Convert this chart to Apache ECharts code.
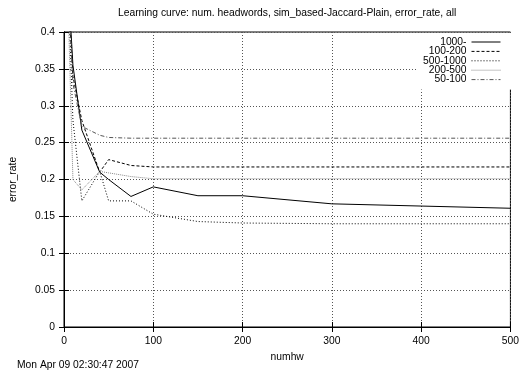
<!DOCTYPE html>
<html>
<head>
<meta charset="utf-8">
<script src="https://cdn.jsdelivr.net/npm/echarts@6/dist/echarts.min.js"></script>
<style>
  html, body { margin: 0; padding: 0; background: #fff; }
  #chart { width: 522px; height: 371px; }
</style>
</head>
<body>
<div id="chart"></div>
<script>
// numhw values (x)
const numhw = [5, 10, 20, 40, 50, 75, 100, 150, 200, 300, 400, 500];

// error_rate per group
const err1000 = [0.46, 0.355, 0.267, 0.21, 0.2, 0.177, 0.19, 0.178, 0.178, 0.167, 0.164, 0.161];
const err100_200 = [0.45, 0.34, 0.28, 0.21, 0.227, 0.219, 0.217, 0.217, 0.217, 0.217, 0.217, 0.217];
const err500_1000 = [0.45, 0.28, 0.171, 0.211, 0.171, 0.171, 0.153, 0.143, 0.141, 0.14, 0.14, 0.14];
const err200_500 = [0.42, 0.2, 0.186, 0.211, 0.209, 0.204, 0.201, 0.201, 0.201, 0.201, 0.201, 0.201];
const err50_100 = [0.45, 0.33, 0.272, 0.26, 0.257, 0.256, 0.256, 0.256, 0.256, 0.256, 0.256, 0.256];

const groups = ['1000-', '100-200', '500-1000', '200-500', '50-100'];
const values = [err1000, err100_200, err500_1000, err200_500, err50_100];
const styles = [
    {color: '#000', type: 'solid'},
    {color: '#000', type: [3, 2]},
    {color: '#000', type: [1, 2]},
    {color: '#888', type: [1, 1]},
    {color: '#555', type: [4, 2, 1, 2]}
];

const FONT = 'Liberation Sans';
const FS = 10.3;

const chart = echarts.init(document.getElementById('chart'), null, {renderer: 'canvas'});

const series = groups.map((name, i) => ({
    name: name,
    type: 'line',
    data: numhw.map((x, j) => [x, values[i][j]]),
    symbol: 'none',
    showSymbol: false,
    clip: true,
    silent: true,
    z: 3,
    itemStyle: {color: styles[i].color},
    lineStyle: {color: styles[i].color, width: 1, type: styles[i].type}
}));

const gridLine = {show: true, lineStyle: {color: '#555', width: 1, type: [1, 2]}};

chart.setOption({
    animation: false,
    backgroundColor: '#fff',
    textStyle: {fontFamily: FONT},
    title: {
        text: 'Learning curve: num. headwords, sim_based-Jaccard-Plain, error_rate, all',
        left: 118,
        top: 8,
        padding: 0,
        textStyle: {fontFamily: FONT, fontSize: FS, fontWeight: 'normal', color: '#000'}
    },
    grid: {
        left: 61, right: 6, top: 32, bottom: 44,
        show: true, borderColor: '#000', borderWidth: 1
    },
    legend: {
        data: groups,
        orient: 'vertical',
        align: 'right',
        right: 11,
        top: 33,
        padding: [4, 10, 5, 7],
        backgroundColor: '#fff',
        itemWidth: 29,
        itemHeight: 7,
        itemGap: -0.6,
        selectedMode: false,
        itemStyle: {opacity: 0},
        lineStyle: {width: 1},
        textStyle: {fontFamily: FONT, fontSize: FS, color: '#000', lineHeight: 9.4}
    },
    xAxis: [{
        type: 'value', min: 0, max: 500, interval: 100,
        name: 'numhw', nameLocation: 'middle', nameGap: 25,
        nameTextStyle: {fontFamily: FONT, fontSize: FS, color: '#000'},
        axisLine: {show: true, lineStyle: {color: '#000', width: 1}},
        axisTick: {show: true, inside: true, length: 5, lineStyle: {color: '#000'}},
        axisLabel: {fontFamily: FONT, fontSize: FS, color: '#000', margin: 9},
        splitLine: gridLine
    }, {
        type: 'value', min: 0, max: 500, interval: 100, position: 'top',
        axisLine: {show: true, lineStyle: {color: '#000', width: 1}},
        axisTick: {show: true, inside: true, length: 5, lineStyle: {color: '#000'}},
        axisLabel: {show: false},
        splitLine: {show: false}
    }],
    yAxis: [{
        type: 'value', min: 0, max: 0.4, interval: 0.05,
        name: 'error_rate', nameLocation: 'middle', nameGap: 46, nameRotate: 90,
        nameTextStyle: {fontFamily: FONT, fontSize: FS, color: '#000'},
        axisLine: {show: true, lineStyle: {color: '#000', width: 1}},
        axisTick: {show: true, inside: true, length: 5, lineStyle: {color: '#000'}},
        axisLabel: {fontFamily: FONT, fontSize: FS, color: '#000', margin: 9},
        splitLine: gridLine
    }, {
        type: 'value', min: 0, max: 0.4, interval: 0.05, position: 'right',
        axisLine: {show: true, lineStyle: {color: '#000', width: 1}},
        axisTick: {show: true, inside: true, length: 5, lineStyle: {color: '#000'}},
        axisLabel: {show: false},
        splitLine: {show: false}
    }],
    graphic: [{
        type: 'text',
        left: 17,
        top: 360,
        style: {text: 'Mon Apr 09 02:30:47 2007', fontFamily: FONT, fontSize: FS, fill: '#000'}
    }],
    series: series
});
</script>
</body>
</html>
